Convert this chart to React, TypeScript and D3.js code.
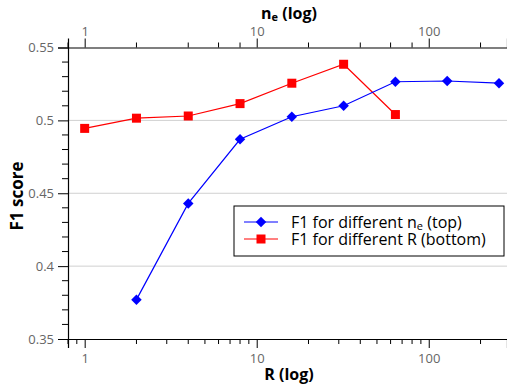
import { useEffect, useRef } from "react"
import * as d3 from "d3"

const neValues = [2, 4, 8, 16, 32, 64, 128, 256]
const neF1 = [0.377, 0.443, 0.487, 0.5025, 0.51, 0.5265, 0.527, 0.5255]
const rValues = [1, 2, 4, 8, 16, 32, 64]
const rF1 = [0.4945, 0.5015, 0.503, 0.5115, 0.5255, 0.5385, 0.504]
const yTicks = [0.35, 0.4, 0.45, 0.5, 0.55]
const xMajor = [1, 10, 100]
const bottomMinor = [0.8, 0.9, 2, 3, 4, 5, 6, 7, 8, 9, 20, 30, 40, 50, 60, 70, 80, 90, 200]
const topMinor = [0.8, 2, 4, 6, 8, 20, 40, 60, 80, 200]
const legendLabels = ["F1 for different n", "F1 for different R (bottom)"]

const FONT = "'Open Sans', sans-serif"
const GREY = "#666"

export default function App() {
  const ref = useRef<SVGSVGElement>(null)
  useEffect(() => {
    if (!ref.current) return
    const svg = d3.select(ref.current)
    svg.selectAll("*").remove()
    const L = 68, R = 507, T = 47.5, B = 339

    const x = d3.scaleLog().domain([0.8, 285]).range([L, R])
    const y = d3.scaleLinear().domain([0.35, 0.55]).range([B, T])

    // grid
    svg.append("g").selectAll("line").data(yTicks.filter(v => v > 0.35 && v < 0.55)).join("line")
      .attr("x1", L).attr("x2", R).attr("y1", d => y(d)).attr("y2", d => y(d))
      .attr("stroke", "#d0d0d0").attr("stroke-width", 1)

    // left axis
    const left = svg.append("g").attr("transform", `translate(${L},0)`)
      .call(d3.axisLeft(y).tickValues(yTicks).tickSize(10).tickPadding(4).tickFormat(d => String(d)))
    const yMinor = d3.range(0.35, 0.5501, 0.01).filter(v => Math.abs(v * 20 - Math.round(v * 20)) > 1e-6)
    left.selectAll(".minor").data(yMinor).join("line").attr("class", "minor")
      .attr("x1", -6).attr("x2", 0).attr("y1", d => y(d)).attr("y2", d => y(d)).attr("stroke", "#000")

    // bottom axis
    const bottom = svg.append("g").attr("transform", `translate(0,${B})`)
      .call(d3.axisBottom(x).tickValues(xMajor).tickSize(9).tickPadding(6).tickFormat(d => String(d)))
    bottom.selectAll(".minor").data(bottomMinor).join("line").attr("class", "minor")
      .attr("x1", d => x(d)).attr("x2", d => x(d)).attr("y1", 0).attr("y2", 5).attr("stroke", "#000")

    // top axis
    const top = svg.append("g").attr("transform", `translate(0,${T})`)
      .call(d3.axisTop(x).tickValues(xMajor).tickSize(9).tickPadding(3).tickFormat(d => String(d)))
    top.selectAll(".minor").data(topMinor).join("line").attr("class", "minor")
      .attr("x1", d => x(d)).attr("x2", d => x(d)).attr("y1", 0).attr("y2", -5).attr("stroke", "#000")

    for (const g of [left, bottom, top]) {
      g.select(".domain").attr("stroke", "#000").attr("stroke-width", 1.2)
      g.selectAll(".tick line").attr("stroke", "#000")
      g.selectAll("text").style("fill", GREY).style("font-size", "13px").style("font-family", FONT)
    }

    // titles
    const tt = svg.append("text").attr("x", 289).attr("y", 19).attr("text-anchor", "middle")
      .style("font-family", FONT).style("font-size", "16px").style("font-weight", "bold")
    tt.append("tspan").text("n")
    tt.append("tspan").attr("font-size", "11px").attr("dy", 2).text("e")
    tt.append("tspan").attr("dy", -2).text(" (log)")
    svg.append("text").attr("x", 289).attr("y", 380).attr("text-anchor", "middle")
      .style("font-family", FONT).style("font-size", "16px").style("font-weight", "bold").text("R (log)")
    svg.append("text").attr("transform", `translate(22.5,196) rotate(-90)`).attr("text-anchor", "middle")
      .style("font-family", FONT).style("font-size", "17px").style("font-weight", "bold").text("F1 score")

    const line = d3.line<[number, number]>().x(d => x(d[0])).y(d => y(d[1]))
    const blue = neValues.map((v, i) => [v, neF1[i]] as [number, number])
    const red = rValues.map((v, i) => [v, rF1[i]] as [number, number])

    svg.append("path").datum(red).attr("d", line).attr("fill", "none").attr("stroke", "#ff0000").attr("stroke-width", 1.2)
    svg.append("path").datum(blue).attr("d", line).attr("fill", "none").attr("stroke", "#0000ff").attr("stroke-width", 1.2)
    svg.append("g").selectAll("rect").data(red).join("rect")
      .attr("x", d => x(d[0]) - 4.5).attr("y", d => y(d[1]) - 4.5).attr("width", 9).attr("height", 9).attr("fill", "#ff0000")
    const diamond = d3.symbol().type(d3.symbolDiamond2).size(70)
    svg.append("g").selectAll("path").data(blue).join("path")
      .attr("transform", d => `translate(${x(d[0])},${y(d[1])})`).attr("d", diamond).attr("fill", "#0000ff")

    // legend
    const lg = svg.append("g").attr("transform", "translate(234,206)")
    lg.append("rect").attr("width", 270).attr("height", 50).attr("fill", "#fff").attr("stroke", "#000")
    const rows = [{ c: "#0000ff", yy: 16 }, { c: "#ff0000", yy: 33 }]
    rows.forEach((r, i) => {
      lg.append("line").attr("x1", 10).attr("x2", 44).attr("y1", r.yy).attr("y2", r.yy).attr("stroke", r.c)
      if (i === 0) lg.append("path").attr("transform", `translate(27,${r.yy})`).attr("d", diamond).attr("fill", r.c)
      else lg.append("rect").attr("x", 22.5).attr("y", r.yy - 4.5).attr("width", 9).attr("height", 9).attr("fill", r.c)
      const t = lg.append("text").attr("x", 57).attr("y", r.yy + 6)
        .style("font-family", FONT).style("font-size", "16px").style("fill", "#000")
      t.append("tspan").text(legendLabels[i])
      if (i === 0) {
        t.append("tspan").attr("font-size", "11px").attr("dy", 2).text("e")
        t.append("tspan").attr("dy", -2).text(" (top)")
      }
    })
  }, [])
  return <svg ref={ref} width={507} height={385} style={{ position: "absolute", left: 0, top: 0, display: "block" }} />
}
